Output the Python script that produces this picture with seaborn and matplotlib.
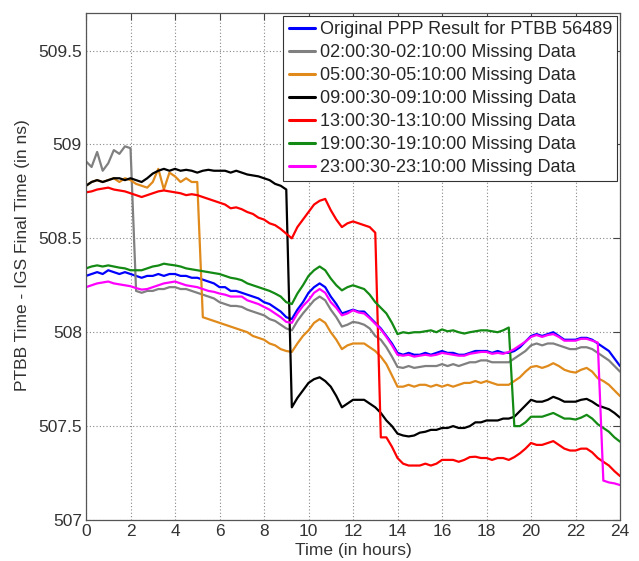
import numpy as np
import pandas as pd
import seaborn as sns
import matplotlib.pyplot as plt
from matplotlib.ticker import FuncFormatter, MultipleLocator

# Time axis: one sample every 15 minutes over the day
hours = np.arange(0, 24.001, 0.25)

labels = [
    "Original PPP Result for PTBB 56489",
    "02:00:30-02:10:00 Missing Data",
    "05:00:30-05:10:00 Missing Data",
    "09:00:30-09:10:00 Missing Data",
    "13:00:30-13:10:00 Missing Data",
    "19:00:30-19:10:00 Missing Data",
    "23:00:30-23:10:00 Missing Data",
]
colors = ["#0000ff", "#808080", "#e08a1c", "#000000", "#ff0000", "#138a13", "#ff00ff"]

# PTBB - IGS final time (ns), 15-minute samples, two hours per row
original = [
    508.30, 508.31, 508.32, 508.31, 508.33, 508.32, 508.31, 508.32,
    508.31, 508.30, 508.29, 508.30, 508.30, 508.31, 508.30, 508.31,
    508.31, 508.30, 508.30, 508.29, 508.29, 508.28, 508.27, 508.26,
    508.24, 508.24, 508.22, 508.22, 508.21, 508.20, 508.19, 508.18,
    508.16, 508.15, 508.13, 508.11, 508.08, 508.07, 508.12, 508.16,
    508.21, 508.24, 508.26, 508.24, 508.19, 508.15, 508.10, 508.11,
    508.12, 508.11, 508.11, 508.08, 508.05, 508.02, 507.98, 507.94,
    507.89, 507.88, 507.89, 507.88, 507.88, 507.89, 507.88, 507.89,
    507.90, 507.89, 507.89, 507.88, 507.88, 507.89, 507.90, 507.90,
    507.90, 507.89, 507.90, 507.89, 507.89, 507.90, 507.92, 507.95,
    507.98, 507.99, 507.98, 507.99, 508.00, 507.98, 507.96, 507.96,
    507.96, 507.97, 507.97, 507.96, 507.94, 507.92, 507.90, 507.86,
    507.82,
]
gap_0200 = [
    508.91, 508.88, 508.96, 508.86, 508.90, 508.97, 508.95, 508.99,
    508.98, 508.22, 508.21, 508.22, 508.22, 508.23, 508.23, 508.24,
    508.24, 508.23, 508.23, 508.22, 508.21, 508.20, 508.19, 508.18,
    508.16, 508.15, 508.14, 508.14, 508.135, 508.12, 508.11, 508.10,
    508.09, 508.07, 508.06, 508.04, 508.02, 508.01, 508.06, 508.10,
    508.135, 508.17, 508.19, 508.17, 508.12, 508.08, 508.03, 508.04,
    508.055, 508.05, 508.04, 508.02, 507.98, 507.96, 507.92, 507.87,
    507.815, 507.81, 507.82, 507.81, 507.815, 507.82, 507.82, 507.82,
    507.83, 507.82, 507.83, 507.82, 507.83, 507.84, 507.84, 507.85,
    507.85, 507.84, 507.84, 507.84, 507.84, 507.86, 507.88, 507.90,
    507.93, 507.94, 507.93, 507.94, 507.94, 507.93, 507.92, 507.91,
    507.91, 507.92, 507.92, 507.91, 507.89, 507.87, 507.85, 507.82,
    507.79,
]
gap_0500 = [
    508.78, 508.80, 508.81, 508.80, 508.81, 508.82, 508.80, 508.82,
    508.81, 508.79, 508.78, 508.77, 508.80, 508.87, 508.76, 508.85,
    508.83, 508.80, 508.82, 508.80, 508.80, 508.08, 508.07, 508.06,
    508.05, 508.04, 508.03, 508.02, 508.01, 508.00, 507.98, 507.97,
    507.96, 507.94, 507.93, 507.91, 507.90, 507.895, 507.94, 507.98,
    508.01, 508.05, 508.07, 508.05, 508.00, 507.96, 507.91, 507.93,
    507.94, 507.94, 507.94, 507.92, 507.90, 507.87, 507.83, 507.77,
    507.71, 507.71, 507.72, 507.71, 507.72, 507.72, 507.71, 507.72,
    507.71, 507.72, 507.71, 507.72, 507.73, 507.73, 507.74, 507.73,
    507.74, 507.73, 507.72, 507.72, 507.72, 507.74, 507.76, 507.79,
    507.815, 507.82, 507.81, 507.82, 507.835, 507.82, 507.80, 507.79,
    507.785, 507.80, 507.81, 507.79, 507.755, 507.74, 507.72, 507.69,
    507.66,
]
gap_0900 = [
    508.78, 508.80, 508.81, 508.80, 508.81, 508.82, 508.82, 508.81,
    508.82, 508.81, 508.80, 508.82, 508.845, 508.86, 508.87, 508.86,
    508.87, 508.86, 508.865, 508.86, 508.85, 508.86, 508.865, 508.86,
    508.86, 508.86, 508.85, 508.86, 508.85, 508.84, 508.835, 508.83,
    508.82, 508.81, 508.79, 508.78, 508.76, 507.60, 507.65, 507.69,
    507.73, 507.75, 507.76, 507.74, 507.71, 507.66, 507.60, 507.62,
    507.64, 507.64, 507.64, 507.62, 507.60, 507.57, 507.53, 507.50,
    507.46, 507.45, 507.445, 507.45, 507.465, 507.47, 507.48, 507.48,
    507.49, 507.49, 507.50, 507.49, 507.49, 507.50, 507.52, 507.52,
    507.53, 507.53, 507.53, 507.54, 507.54, 507.55, 507.58, 507.61,
    507.64, 507.63, 507.63, 507.64, 507.656, 507.645, 507.63, 507.63,
    507.63, 507.64, 507.645, 507.63, 507.61, 507.60, 507.59, 507.57,
    507.545,
]
gap_1300 = [
    508.745, 508.75, 508.76, 508.765, 508.77, 508.76, 508.755, 508.75,
    508.74, 508.73, 508.72, 508.73, 508.74, 508.75, 508.755, 508.75,
    508.745, 508.74, 508.73, 508.735, 508.73, 508.72, 508.71, 508.70,
    508.69, 508.68, 508.66, 508.665, 508.655, 508.64, 508.63, 508.61,
    508.60, 508.58, 508.57, 508.55, 508.525, 508.50, 508.56, 508.60,
    508.64, 508.68, 508.70, 508.71, 508.65, 508.60, 508.56, 508.58,
    508.59, 508.58, 508.57, 508.56, 508.53, 507.44, 507.44, 507.39,
    507.33, 507.30, 507.29, 507.29, 507.29, 507.30, 507.29, 507.30,
    507.32, 507.32, 507.32, 507.31, 507.32, 507.335, 507.337, 507.33,
    507.33, 507.32, 507.33, 507.33, 507.32, 507.335, 507.355, 507.38,
    507.41, 507.40, 507.40, 507.41, 507.42, 507.40, 507.38, 507.37,
    507.37, 507.38, 507.38, 507.36, 507.33, 507.31, 507.29, 507.26,
    507.234,
]
gap_1900 = [
    508.34, 508.35, 508.356, 508.35, 508.356, 508.35, 508.344, 508.34,
    508.33, 508.33, 508.33, 508.34, 508.35, 508.355, 508.365, 508.36,
    508.356, 508.35, 508.34, 508.335, 508.33, 508.325, 508.32, 508.315,
    508.31, 508.30, 508.29, 508.285, 508.277, 508.26, 508.25, 508.24,
    508.23, 508.22, 508.206, 508.19, 508.16, 508.15, 508.206, 508.25,
    508.30, 508.33, 508.35, 508.33, 508.286, 508.25, 508.223, 508.24,
    508.25, 508.24, 508.23, 508.20, 508.16, 508.13, 508.10, 508.05,
    507.99, 508.00, 507.995, 508.00, 508.00, 508.005, 508.01, 508.00,
    508.015, 508.005, 508.01, 508.00, 507.993, 508.00, 508.005, 508.01,
    508.01, 508.005, 508.00, 508.01, 508.025, 507.50, 507.50, 507.52,
    507.55, 507.55, 507.55, 507.56, 507.57, 507.555, 507.54, 507.54,
    507.535, 507.545, 507.56, 507.54, 507.51, 507.49, 507.47, 507.44,
    507.417,
]
gap_2300 = [
    508.24, 508.25, 508.26, 508.265, 508.27, 508.26, 508.255, 508.25,
    508.245, 508.235, 508.227, 508.23, 508.24, 508.25, 508.26, 508.265,
    508.27, 508.26, 508.25, 508.245, 508.24, 508.23, 508.22, 508.215,
    508.206, 508.20, 508.19, 508.19, 508.19, 508.17, 508.16, 508.15,
    508.135, 508.12, 508.10, 508.08, 508.055, 508.05, 508.10, 508.14,
    508.17, 508.21, 508.23, 508.21, 508.16, 508.13, 508.09, 508.10,
    508.117, 508.105, 508.10, 508.075, 508.045, 508.015, 507.975, 507.93,
    507.88, 507.875, 507.88, 507.87, 507.875, 507.88, 507.875, 507.88,
    507.89, 507.885, 507.88, 507.875, 507.875, 507.885, 507.89, 507.895,
    507.895, 507.885, 507.89, 507.885, 507.895, 507.91, 507.93, 507.95,
    507.975, 507.985, 507.975, 507.985, 507.99, 507.975, 507.955, 507.955,
    507.955, 507.965, 507.965, 507.955, 507.945, 507.21, 507.20, 507.195,
    507.186,
]

series = [original, gap_0200, gap_0500, gap_0900, gap_1300, gap_1900, gap_2300]

df = pd.concat(
    [pd.DataFrame({"hours": hours, "offset": vals, "run": lab})
     for lab, vals in zip(labels, series)],
    ignore_index=True,
)

sns.set_style("white")
plt.rcParams["font.family"] = ["Liberation Sans", "DejaVu Sans"]
plt.rcParams["font.size"] = 12.5

fig = plt.figure(figsize=(6.39, 5.61), dpi=100)
ax = fig.add_axes([0.1346, 0.0731, 0.8357, 0.9037])

sns.lineplot(
    data=df, x="hours", y="offset", hue="run", hue_order=labels,
    palette=dict(zip(labels, colors)), estimator=None, linewidth=1.6, ax=ax,
)

ax.set_xlim(0, 24)
ax.set_ylim(507, 509.7)
ax.xaxis.set_major_locator(MultipleLocator(2))
ax.yaxis.set_major_locator(MultipleLocator(0.5))
ax.yaxis.set_major_formatter(FuncFormatter(lambda v, _: f"{v:g}"))
ax.tick_params(direction="in", top=True, right=True, length=5, width=0.8,
               colors="#444444", labelcolor="#333333", labelsize=12.5, pad=3)
ax.grid(True, linestyle=(0, (1, 2)), color="#888888", linewidth=0.8)
for sp in ax.spines.values():
    sp.set_color("#555555")
    sp.set_linewidth(0.9)

ax.set_xlabel("Time (in hours)", fontsize=12.5, color="#333333", labelpad=3)
ax.set_ylabel("PTBB Time - IGS Final Time (in ns)", fontsize=12.5, color="#333333")
ax.yaxis.set_label_coords(-0.105, 0.523)

handles, labs = ax.get_legend_handles_labels()
leg = ax.legend(
    handles, labs, loc="upper right", fontsize=13, frameon=True, fancybox=False,
    edgecolor="#333333", framealpha=1, borderaxespad=0.15, borderpad=0.3,
    labelspacing=0.33, handlelength=1.45, handletextpad=0.25,
)
leg.get_frame().set_linewidth(0.8)
for line in leg.get_lines():
    line.set_linewidth(2.2)

fig.savefig("out.png", dpi=100)
